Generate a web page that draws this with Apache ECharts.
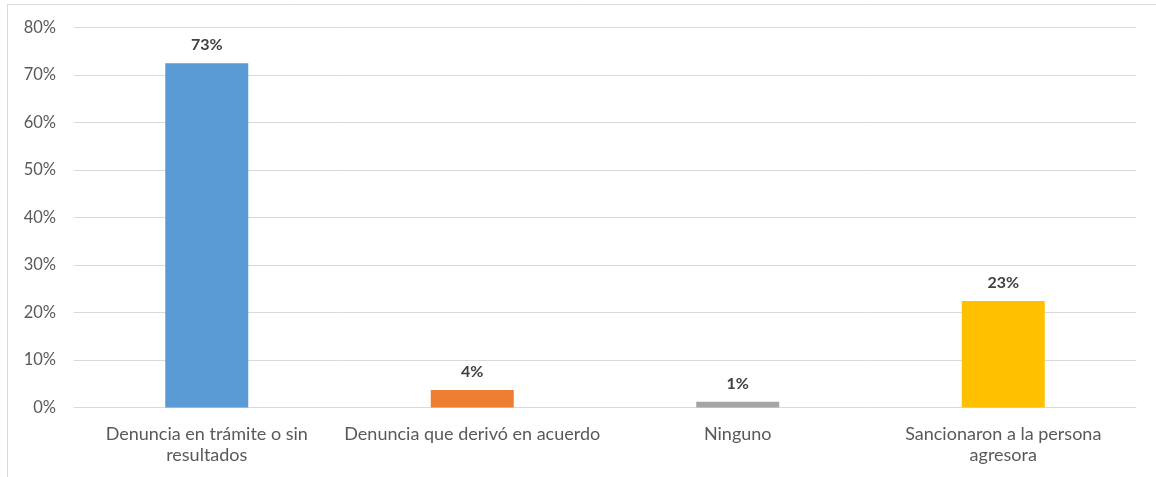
<!DOCTYPE html>
<html><head><meta charset="utf-8">
<script src="https://cdn.jsdelivr.net/npm/echarts@6/dist/echarts.min.js"></script>
<style>html,body{margin:0;padding:0;background:#fff}#c{width:1156px;height:477px}</style>
</head><body><div id="c"></div>
<script>
const categories = ["Denuncia en trámite o sin\nresultados", "Denuncia que derivó en acuerdo", "Ninguno", "Sancionaron a la persona\nagresora"];
const values = [72.5, 3.7, 1.2, 22.4];
const valueLabels = ["73%", "4%", "1%", "23%"];
const barColors = ["#5B9BD5", "#ED7D31", "#A5A5A5", "#FFC000"];
const yTicks = { min: 0, max: 80, interval: 10 };

const chart = echarts.init(document.getElementById('c'), null, { renderer: 'canvas' });
chart.setOption({
  animation: false,
  backgroundColor: '#fff',
  graphic: [{ type: 'rect', shape: { x: 7.5, y: 4.5, width: 1160, height: 480 }, style: { fill: 'none', stroke: '#d9d9d9', lineWidth: 1 }, silent: true }],
  grid: { left: 74, right: 20, top: 27.5, bottom: 69.5, containLabel: false },
  xAxis: {
    type: 'category', data: categories,
    axisLine: { show: true, lineStyle: { color: '#d9d9d9', width: 1 } },
    axisTick: { show: false },
    axisLabel: { color: '#595959', fontFamily: 'Lato', fontSize: 18, lineHeight: 21, margin: 16, interval: 0 }
  },
  yAxis: {
    type: 'value', min: yTicks.min, max: yTicks.max, interval: yTicks.interval,
    axisLine: { show: false }, axisTick: { show: false },
    splitLine: { lineStyle: { color: '#d9d9d9', width: 1 } },
    axisLabel: { color: '#595959', fontFamily: 'Lato', fontSize: 16.5, margin: 18, formatter: v => v + '%' }
  },
  series: [{
    type: 'bar', barWidth: 83,
    data: values.map((v, i) => ({ value: v, itemStyle: { color: barColors[i] } })),
    label: { show: true, position: 'top', distance: 10, color: '#404040', fontFamily: 'Lato', fontWeight: 'bold', fontSize: 16,
      formatter: p => valueLabels[p.dataIndex] }
  }]
});
</script></body></html>
